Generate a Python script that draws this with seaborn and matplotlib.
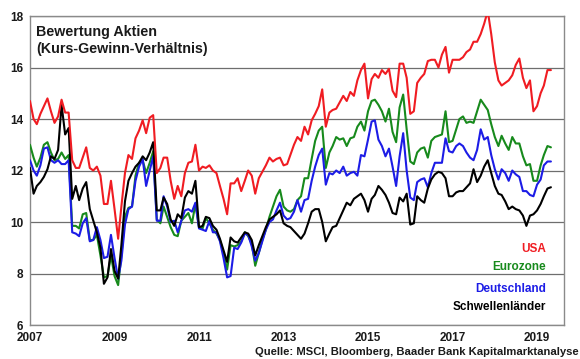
import numpy as np
import pandas as pd
import matplotlib
matplotlib.use("Agg")
import matplotlib.pyplot as plt
import seaborn as sns

# ---------------- data (monthly, Jan 2007 - May 2019) ----------------
start = "2007-01-01"
regions = ["Eurozone", "Deutschland", "Schwellenländer", "USA"]

usa = [
    14.7, 14.0, 13.8, 14.2, 14.5, 14.8, 14.3, 13.85, 14.1, 14.75, 14.25, 14.25,
    12.4, 12.1, 12.1, 12.5, 12.9, 12.1, 12.0, 12.15, 11.8, 10.7, 10.7, 11.6,
    10.5, 9.35, 10.6, 11.9, 12.6, 12.45, 13.25, 13.55, 13.95, 13.45, 14.05, 14.15,
    11.9, 12.1, 12.5, 12.5, 11.6, 10.9, 11.4, 11.0, 11.9, 12.3, 12.35, 13.0,
    12.0, 12.15, 12.1, 12.2, 12.0, 11.9, 11.4, 10.9, 10.3, 11.5, 11.5, 11.7,
    11.2, 11.6, 12.0, 11.8, 11.1, 11.7, 11.95, 12.2, 12.5, 12.35, 12.45, 12.5,
    12.2, 12.25, 12.6, 13.0, 13.3, 13.15, 13.7, 13.4, 13.95, 14.2, 14.5, 15.15,
    13.7, 14.25, 14.35, 14.4, 14.65, 14.9, 14.7, 15.05, 14.9, 15.5, 15.9, 16.15,
    14.8, 15.55, 15.75, 15.6, 15.9, 15.75, 15.95, 15.1, 14.85, 16.15, 16.15, 15.6,
    14.2, 14.3, 15.4, 15.6, 15.75, 16.25, 16.3, 16.3, 16.0, 16.5, 16.8, 15.8,
    16.3, 16.3, 16.3, 16.4, 16.6, 16.7, 17.0, 17.0, 17.3, 17.7, 18.2, 17.3,
    16.2, 15.5, 15.3, 15.4, 15.5, 15.7, 16.1, 16.35, 15.6, 15.2, 15.5, 14.3,
    14.5, 15.0, 15.3, 15.9, 15.9,
]
eurozone = [
    13.0, 12.5, 12.15, 12.5, 13.0, 13.1, 12.7, 12.4, 12.45, 12.7, 12.45, 12.6,
    9.85, 9.85, 9.75, 10.3, 10.35, 9.3, 9.3, 9.5, 8.7, 7.85, 7.9, 8.7,
    7.9, 7.55, 8.7, 10.2, 10.55, 10.6, 11.8, 12.3, 12.4, 11.9, 12.3, 12.75,
    10.1, 9.95, 10.6, 10.2, 9.8, 9.5, 9.45, 10.05, 10.2, 10.35, 9.95, 10.7,
    9.8, 9.75, 10.15, 9.95, 9.7, 9.55, 9.3, 8.8, 8.15, 9.1, 9.05, 9.1,
    9.25, 9.6, 9.45, 9.15, 8.3, 8.8, 9.3, 9.7, 10.2, 10.6, 11.0, 11.25,
    10.6, 10.45, 10.4, 10.5, 10.85, 11.0, 11.7, 11.7, 12.45, 13.15, 13.55, 13.7,
    12.1, 12.7, 12.95, 13.3, 13.2, 13.25, 12.95, 13.25, 13.3, 13.7, 13.9, 13.55,
    14.3, 14.7, 14.75, 14.55, 14.3, 13.9, 14.4, 13.5, 13.1, 14.45, 14.95, 13.6,
    12.35, 12.25, 12.7, 12.85, 12.9, 12.5, 13.15, 13.3, 13.35, 13.4, 14.3, 13.1,
    13.15, 13.6, 14.0, 14.1, 13.85, 13.9, 13.85, 14.3, 14.75, 14.55, 14.35, 13.8,
    13.3, 12.95, 13.35, 13.05, 12.8, 13.3, 13.05, 13.05, 12.55, 12.2, 12.25, 11.6,
    11.6, 12.2, 12.6, 12.95, 12.9,
]
deutschland = [
    12.4, 12.0, 11.8, 12.2, 12.85, 12.9, 12.4, 12.3, 12.4, 12.25, 12.25, 12.4,
    9.6, 9.55, 9.45, 9.95, 10.15, 9.25, 9.3, 9.8, 9.3, 8.6, 8.65, 9.5,
    8.6, 7.8, 8.5, 9.9, 10.5, 10.6, 11.6, 12.15, 12.45, 11.4, 12.0, 12.55,
    10.05, 10.05, 11.0, 10.6, 10.0, 10.05, 9.6, 10.05, 10.45, 10.5, 10.4, 10.75,
    9.75, 9.7, 9.65, 10.05, 9.6, 9.6, 9.25, 8.6, 7.85, 7.9, 9.0, 8.95,
    9.2, 9.55, 9.5, 9.05, 8.5, 8.8, 9.25, 9.7, 10.0, 10.1, 10.45, 10.75,
    10.25, 10.1, 10.15, 10.4, 10.85, 10.4, 10.85, 10.9, 11.6, 12.15, 12.6, 12.85,
    11.45, 11.9, 11.85, 12.0, 11.9, 12.15, 11.8, 11.9, 11.95, 11.8, 12.6, 12.55,
    13.2, 13.9, 13.95, 13.2, 12.95, 12.55, 12.85, 12.15, 11.4, 12.55, 13.45, 12.0,
    10.95, 10.85, 11.55, 11.65, 11.7, 11.35, 11.9, 12.3, 12.3, 12.3, 13.25, 12.75,
    12.7, 12.95, 13.05, 12.95, 12.7, 12.5, 12.4, 12.8, 13.6, 13.2, 13.3, 12.6,
    12.05, 11.65, 12.05, 11.9, 11.6, 12.0, 11.85, 11.75, 11.2, 11.2, 11.05, 11.0,
    11.45, 11.65, 12.2, 12.35, 12.35,
]
schwellenlaender = [
    12.1, 11.1, 11.4, 11.55, 11.75, 12.05, 12.55, 12.45, 12.8, 14.55, 13.4, 13.65,
    10.9, 11.4, 10.85, 11.3, 11.55, 10.5, 10.05, 9.6, 9.0, 7.6, 7.85, 8.95,
    8.1, 7.8, 9.1, 10.8, 11.6, 11.9, 12.15, 12.3, 12.55, 12.4, 12.7, 13.1,
    10.45, 10.45, 10.95, 10.7, 10.1, 9.85, 10.3, 10.15, 10.95, 11.2, 11.1, 11.6,
    9.8, 9.85, 10.2, 10.15, 9.85, 9.7, 9.35, 8.9, 8.45, 9.4, 9.25, 9.2,
    9.4, 9.6, 9.55, 9.3, 8.7, 9.1, 9.45, 9.8, 10.1, 10.2, 10.3, 10.45,
    9.95, 9.85, 9.8, 9.65, 9.5, 9.35, 9.55, 9.95, 10.4, 10.5, 10.5, 10.0,
    9.25, 9.55, 9.8, 9.85, 10.15, 10.45, 10.75, 10.65, 10.9, 11.0, 11.1, 10.85,
    10.4, 10.9, 11.05, 11.4, 11.25, 11.05, 10.75, 10.35, 10.3, 10.95, 10.8, 11.1,
    9.9, 9.95, 11.0, 10.85, 10.75, 11.3, 11.65, 11.85, 11.95, 11.9, 11.7, 11.0,
    11.0, 11.15, 11.2, 11.2, 11.35, 11.5, 12.05, 11.55, 11.8, 12.15, 12.4, 11.9,
    11.4, 11.1, 11.05, 10.8, 10.5, 10.6, 10.5, 10.45, 10.25, 9.85, 10.25, 10.3,
    10.45, 10.7, 11.0, 11.3, 11.35,
]
year_ticks = [2007, 2009, 2011, 2013, 2015, 2017, 2019]
y_ticks = [6, 8, 10, 12, 14, 16, 18]

colors = {"USA": "#f01c22", "Eurozone": "#178a1c",
          "Deutschland": "#1c1ce6", "Schwellenländer": "#000000"}

dates = pd.date_range(start, periods=len(usa), freq="MS")
series = {"Eurozone": eurozone, "Deutschland": deutschland,
          "Schwellenländer": schwellenlaender, "USA": usa}
df = pd.concat([pd.DataFrame({"Datum": dates, "KGV": v, "Region": k})
                for k, v in series.items()], ignore_index=True)

# ---------------- figure ----------------
sns.set_style("white")
plt.rcParams["font.family"] = ["Liberation Sans", "DejaVu Sans"]

fig = plt.figure(figsize=(5.8, 3.59), dpi=100)
ax = fig.add_axes([0.0517, 0.0947, 0.9207, 0.8607])

sns.lineplot(data=df, x="Datum", y="KGV", hue="Region", hue_order=regions,
             palette=colors, linewidth=1.5, legend=False, ax=ax, zorder=3)

ax.set_xlim(pd.Timestamp("2007-01-01"), pd.Timestamp("2019-08-22"))
ax.set_ylim(6, 18)
ax.set_yticks(y_ticks)
ax.set_yticklabels([str(t) for t in y_ticks])
ax.set_xticks([pd.Timestamp(f"{y}-01-01") for y in year_ticks])
ax.set_xticklabels([str(y) for y in year_ticks])
ax.set_xlabel("")
ax.set_ylabel("")

ax.yaxis.grid(True, color="#6e6e6e", linewidth=0.9, zorder=1)
ax.xaxis.grid(False)
for s in ax.spines.values():
    s.set_color("#8a8a8a")
    s.set_linewidth(1.0)

ax.tick_params(axis="both", which="major", labelsize=8.5, colors="#8a8a8a",
               labelcolor="#1a1a1a", length=3, width=1.0, direction="out")
ax.tick_params(axis="x", pad=2)
ax.tick_params(axis="y", pad=2)
for lab in ax.get_xticklabels() + ax.get_yticklabels():
    lab.set_fontweight("bold")

ax.text(0.011, 0.97, "Bewertung Aktien\n(Kurs-Gewinn-Verhältnis)",
        transform=ax.transAxes, ha="left", va="top", fontsize=10.3,
        fontweight="bold", color="#1a1a1a", linespacing=1.25)

label_pos = {"USA": 0.246, "Eurozone": 0.188, "Deutschland": 0.1165,
             "Schwellenländer": 0.058}
for name, yy in label_pos.items():
    ax.text(0.966, yy, name, transform=ax.transAxes, ha="right", va="center",
            fontsize=8.5, fontweight="bold", color=colors[name])

fig.text(0.997, 0.02, "Quelle: MSCI, Bloomberg, Baader Bank Kapitalmarktanalyse",
         ha="right", va="center", fontsize=8.1, fontweight="bold",
         color="#1a1a1a")

fig.savefig("out.png", dpi=100)
